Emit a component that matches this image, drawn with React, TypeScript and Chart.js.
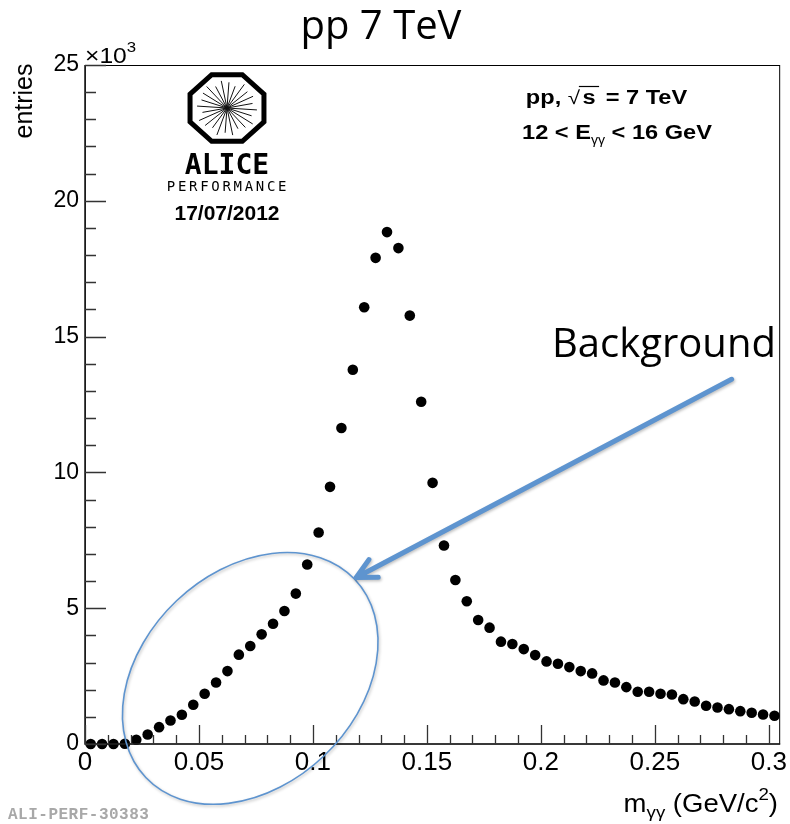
import React, { useEffect, useRef } from 'react';
import { Chart, registerables } from 'chart.js';

Chart.register(...registerables);

// Bin centres of the invariant-mass histogram (GeV/c^2)
const massBins = [
  0.0025, 0.0075, 0.0125, 0.0175, 0.0225, 0.0275, 0.0325, 0.0375, 0.0425, 0.0475,
  0.0525, 0.0575, 0.0625, 0.0675, 0.0725, 0.0775, 0.0825, 0.0875, 0.0925, 0.0975,
  0.1025, 0.1075, 0.1125, 0.1175, 0.1225, 0.1275, 0.1325, 0.1375, 0.1425, 0.1475,
  0.1525, 0.1575, 0.1625, 0.1675, 0.1725, 0.1775, 0.1825, 0.1875, 0.1925, 0.1975,
  0.2025, 0.2075, 0.2125, 0.2175, 0.2225, 0.2275, 0.2325, 0.2375, 0.2425, 0.2475,
  0.2525, 0.2575, 0.2625, 0.2675, 0.2725, 0.2775, 0.2825, 0.2875, 0.2925, 0.2975,
  0.3025,
];

// Entries per bin
const entries = [
  0, 0, 0, 10, 155, 350, 620, 866, 1075, 1445,
  1850, 2267, 2685, 3290, 3607, 4037, 4430, 4897, 5538, 6607,
  7787, 9468, 11632, 13782, 16083, 17900, 18848, 18258, 15773, 12602,
  9616, 7307, 6040, 5254, 4565, 4284, 3768, 3680, 3495, 3274,
  3042, 2957, 2832, 2685, 2600, 2341, 2267, 2094, 1925, 1925,
  1850, 1825, 1652, 1567, 1408, 1346, 1283, 1209, 1150, 1088,
  1040,
];

const xTickValues = [0, 0.05, 0.1, 0.15, 0.2, 0.25, 0.3];
const xTickLabels = ['0', '0.05', '0.1', '0.15', '0.2', '0.25', '0.3'];
const xMinorTicks = [
  0.01, 0.02, 0.03, 0.04, 0.06, 0.07, 0.08, 0.09, 0.11, 0.12, 0.13, 0.14,
  0.16, 0.17, 0.18, 0.19, 0.21, 0.22, 0.23, 0.24, 0.26, 0.27, 0.28, 0.29,
];
const yTickValues = [0, 5000, 10000, 15000, 20000, 25000];
const yTickLabels = ['0', '5', '10', '15', '20', '25'];
const yMinorTicks = [
  1000, 2000, 3000, 4000, 6000, 7000, 8000, 9000, 11000, 12000, 13000, 14000,
  16000, 17000, 18000, 19000, 21000, 22000, 23000, 24000,
];

// Annotation anchors in data coordinates
const ellipseCenter = { x: 0.0725, y: 2415 };
const arrowStart = { x: 0.2837, y: 13430 };
const arrowTip = { x: 0.119, y: 6128 };

const ROOT_FONT = '"Liberation Sans", Arial, Helvetica, sans-serif';
const SLIDE_FONT = '"Open Sans", "Noto Sans", sans-serif';
const BLUE = '#5E94CF';

type Piece = { t: string; font: string; dy: number; dx?: number };

function drawPieces(
  ctx: CanvasRenderingContext2D,
  pieces: Piece[],
  x: number,
  y: number,
  align: 'left' | 'center' | 'right',
  sx = 1
) {
  let total = 0;
  for (const p of pieces) {
    ctx.font = p.font;
    total += ctx.measureText(p.t).width + (p.dx || 0);
  }
  ctx.save();
  ctx.translate(x, y);
  ctx.scale(sx, 1);
  let cx = align === 'left' ? 0 : align === 'center' ? -total / 2 : -total;
  ctx.textAlign = 'left';
  ctx.textBaseline = 'alphabetic';
  for (const p of pieces) {
    ctx.font = p.font;
    cx += p.dx || 0;
    ctx.fillText(p.t, cx, p.dy);
    cx += ctx.measureText(p.t).width;
  }
  ctx.restore();
}

const overlayPlugin = {
  id: 'overlay',
  afterDraw(chart: any) {
    const ctx: CanvasRenderingContext2D = chart.ctx;
    const { left, right, top, bottom } = chart.chartArea;
    const xs = chart.scales.x;
    const ys = chart.scales.y;
    ctx.save();

    // Frame
    ctx.strokeStyle = '#000';
    ctx.lineWidth = 1;
    ctx.strokeRect(left + 0.5, top + 0.5, right - left - 1, bottom - top - 0.5);
    ctx.lineWidth = 1.6;
    ctx.strokeStyle = '#222';
    ctx.beginPath();
    ctx.moveTo(left, top);
    ctx.lineTo(left, bottom);
    ctx.lineTo(right, bottom);
    ctx.stroke();

    // Ticks (inside, ROOT style)
    ctx.lineWidth = 1.3;
    ctx.strokeStyle = '#333';
    ctx.beginPath();
    for (const v of yTickValues) {
      const py = Math.round(ys.getPixelForValue(v)) + 0.5;
      ctx.moveTo(left, py);
      ctx.lineTo(left + 21, py);
    }
    for (const v of yMinorTicks) {
      const py = Math.round(ys.getPixelForValue(v)) + 0.5;
      ctx.moveTo(left, py);
      ctx.lineTo(left + 11, py);
    }
    for (const v of xTickValues) {
      const px = Math.round(xs.getPixelForValue(v)) + 0.5;
      ctx.moveTo(px, bottom);
      ctx.lineTo(px, bottom - 19);
    }
    for (const v of xMinorTicks) {
      const px = Math.round(xs.getPixelForValue(v)) + 0.5;
      ctx.moveTo(px, bottom);
      ctx.lineTo(px, bottom - 9);
    }
    ctx.stroke();

    ctx.fillStyle = '#000';

    // Title
    ctx.font = `40px ${SLIDE_FONT}`;
    ctx.textAlign = 'center';
    ctx.textBaseline = 'alphabetic';
    ctx.fillText('pp 7 TeV', 381, 39);

    // x10^3
    drawPieces(
      ctx,
      [
        { t: '×10', font: `22px ${ROOT_FONT}`, dy: 0 },
        { t: '3', font: `15px ${ROOT_FONT}`, dy: -11 },
      ],
      85,
      63,
      'left',
      1.12
    );

    // y title
    ctx.save();
    ctx.translate(32, 101);
    ctx.rotate(-Math.PI / 2);
    ctx.font = `25px ${ROOT_FONT}`;
    ctx.textAlign = 'center';
    ctx.textBaseline = 'alphabetic';
    ctx.fillText('entries', 0, 0);
    ctx.restore();

    // x title
    drawPieces(
      ctx,
      [
        { t: 'm', font: `25px ${ROOT_FONT}`, dy: 0 },
        { t: 'γγ', font: `17px ${ROOT_FONT}`, dy: 6 },
        { t: ' (GeV/c', font: `25px ${ROOT_FONT}`, dy: 0 },
        { t: '2', font: `17px ${ROOT_FONT}`, dy: -12 },
        { t: ')', font: `25px ${ROOT_FONT}`, dy: 0 },
      ],
      778,
      812,
      'right',
      1.1
    );

    // Top-right labels
    const bold20 = `bold 20px ${ROOT_FONT}`;
    {
      const y = 104;
      const sx = 1.18;
      ctx.font = bold20;
      const wA = ctx.measureText('pp, ').width;
      const wS = ctx.measureText('s').width;
      const wB = ctx.measureText(' = 7 TeV').width;
      ctx.font = `19px ${ROOT_FONT}`;
      const wR = ctx.measureText('√').width;
      const total = wA + wR + wS + 5 + wB;
      ctx.save();
      ctx.translate(606.5, y);
      ctx.scale(sx, 1);
      let cx = -total / 2;
      ctx.textAlign = 'left';
      ctx.font = bold20;
      ctx.fillText('pp, ', cx, 0);
      cx += wA;
      ctx.font = `19px ${ROOT_FONT}`;
      ctx.fillText('√', cx, 0);
      cx += wR;
      ctx.font = bold20;
      ctx.fillText('s', cx + 2, 0);
      ctx.lineWidth = 1.2;
      ctx.strokeStyle = '#000';
      ctx.beginPath();
      ctx.moveTo(cx - 1, -17.5);
      ctx.lineTo(cx + wS + 5, -17.5);
      ctx.stroke();
      cx += wS + 5;
      ctx.fillText(' = 7 TeV', cx, 0);
      ctx.restore();
    }
    drawPieces(
      ctx,
      [
        { t: '12 < E', font: bold20, dy: 0 },
        { t: 'γγ', font: `12px ${ROOT_FONT}`, dy: 5 },
        { t: ' < 16 GeV', font: bold20, dy: 0 },
      ],
      617,
      139,
      'center',
      1.18
    );

    // ALICE logo
    const lcx = 227;
    const lcy = 108;
    ctx.strokeStyle = '#000';
    ctx.lineWidth = 5;
    ctx.beginPath();
    for (let k = 0; k < 8; k++) {
      const a = Math.PI / 8 + (k * Math.PI) / 4;
      const px = lcx + 40 * Math.cos(a);
      const py = lcy + 36 * Math.sin(a);
      if (k === 0) ctx.moveTo(px, py);
      else ctx.lineTo(px, py);
    }
    ctx.closePath();
    ctx.stroke();
    ctx.lineWidth = 1;
    ctx.strokeStyle = '#111';
    ctx.beginPath();
    const spokeLens = [30, 26, 31, 28, 25, 30, 27, 31, 26, 29, 31, 25, 30, 27, 29, 31, 26, 30, 28, 25, 31, 27, 29, 26];
    for (let k = 0; k < spokeLens.length; k++) {
      const a = (k * 2 * Math.PI) / spokeLens.length + 0.07;
      const r = spokeLens[k];
      ctx.moveTo(lcx, lcy);
      ctx.lineTo(lcx + r * Math.cos(a), lcy + r * 0.92 * Math.sin(a));
    }
    ctx.stroke();

    ctx.fillStyle = '#000';
    ctx.textAlign = 'center';
    ctx.textBaseline = 'alphabetic';
    ctx.font = `bold 28px "DejaVu Sans Mono", monospace`;
    ctx.fillText('ALICE', 227, 174);
    ctx.font = `14px "DejaVu Sans Mono", monospace`;
    (ctx as any).letterSpacing = '2.7px';
    ctx.fillText('PERFORMANCE', 228, 191);
    (ctx as any).letterSpacing = '0px';
    ctx.font = `bold 21px ${ROOT_FONT}`;
    ctx.fillText('17/07/2012', 227, 220);

    // ALI-PERF label
    ctx.fillStyle = '#a8a8a8';
    ctx.textAlign = 'left';
    ctx.font = `bold 16px "Liberation Mono", "DejaVu Sans Mono", monospace`;
    (ctx as any).letterSpacing = '0.5px';
    ctx.fillText('ALI-PERF-30383', 8, 819);
    (ctx as any).letterSpacing = '0px';

    // Background annotation
    ctx.fillStyle = '#000';
    ctx.font = `40px ${SLIDE_FONT}`;
    ctx.fillText('Background', 552, 357);

    // Ellipse
    const ex = xs.getPixelForValue(ellipseCenter.x);
    const ey = ys.getPixelForValue(ellipseCenter.y);
    ctx.save();
    ctx.shadowColor = 'rgba(0,0,0,0.25)';
    ctx.shadowBlur = 3;
    ctx.shadowOffsetX = 1;
    ctx.shadowOffsetY = 1.5;
    ctx.strokeStyle = BLUE;
    ctx.lineWidth = 1.6;
    ctx.beginPath();
    ctx.ellipse(ex, ey, 144, 107, (-43.5 * Math.PI) / 180, 0, 2 * Math.PI);
    ctx.stroke();

    // Arrow
    const ax0 = xs.getPixelForValue(arrowStart.x);
    const ay0 = ys.getPixelForValue(arrowStart.y);
    const ax1 = xs.getPixelForValue(arrowTip.x);
    const ay1 = ys.getPixelForValue(arrowTip.y);
    ctx.lineWidth = 5;
    ctx.lineCap = 'round';
    ctx.lineJoin = 'round';
    ctx.beginPath();
    ctx.moveTo(ax0, ay0);
    ctx.lineTo(ax1, ay1);
    const ang = Math.atan2(ay0 - ay1, ax0 - ax1);
    const hl = 22;
    ctx.moveTo(ax1 + hl * Math.cos(ang - 0.47), ay1 + hl * Math.sin(ang - 0.47));
    ctx.lineTo(ax1, ay1);
    ctx.lineTo(ax1 + hl * Math.cos(ang + 0.47), ay1 + hl * Math.sin(ang + 0.47));
    ctx.stroke();
    ctx.restore();

    ctx.restore();
  },
};

export default function App() {
  const canvasRef = useRef<HTMLCanvasElement | null>(null);

  useEffect(() => {
    if (!canvasRef.current) return;
    const chart = new Chart(canvasRef.current, {
      type: 'scatter',
      data: {
        datasets: [
          {
            data: massBins.map((m, i) => ({ x: m, y: entries[i] })),
            backgroundColor: '#000',
            borderColor: '#000',
            borderWidth: 0,
            pointRadius: 5.3,
            pointHoverRadius: 5.3,
            showLine: false,
            clip: false as any,
          },
        ],
      },
      options: {
        responsive: false,
        animation: false,
        devicePixelRatio: 1,
        events: [],
        layout: { padding: { left: 0, right: 9, top: 65, bottom: 0 } },
        plugins: {
          legend: { display: false },
          tooltip: { enabled: false },
          title: { display: false },
        },
        scales: {
          x: {
            type: 'linear',
            min: 0,
            max: 0.305,
            grid: { display: false, drawTicks: false },
            border: { display: false },
            afterBuildTicks: (s: any) => {
              s.ticks = xTickValues.map((v) => ({ value: v }));
            },
            afterFit: (s: any) => {
              s.height = 80;
            },
            ticks: {
              autoSkip: false,
              maxRotation: 0,
              minRotation: 0,
              padding: 3,
              color: '#000',
              font: { family: ROOT_FONT, size: 26 },
              callback: (_v: any, i: number) => xTickLabels[i],
            },
          },
          y: {
            type: 'linear',
            min: 0,
            max: 25000,
            grid: { display: false, drawTicks: false },
            border: { display: false },
            afterBuildTicks: (s: any) => {
              s.ticks = yTickValues.map((v) => ({ value: v }));
            },
            afterFit: (s: any) => {
              s.width = 85;
            },
            ticks: {
              autoSkip: false,
              padding: 6,
              color: '#000',
              font: { family: ROOT_FONT, size: 23 },
              callback: (_v: any, i: number) => yTickLabels[i],
            },
          },
        },
      },
      plugins: [overlayPlugin],
    });
    return () => chart.destroy();
  }, []);

  return (
    <div style={{ position: 'absolute', left: 0, top: 0, width: 790, height: 824, background: '#fff' }}>
      <canvas ref={canvasRef} width={790} height={824} style={{ width: 790, height: 824, display: 'block' }} />
    </div>
  );
}
